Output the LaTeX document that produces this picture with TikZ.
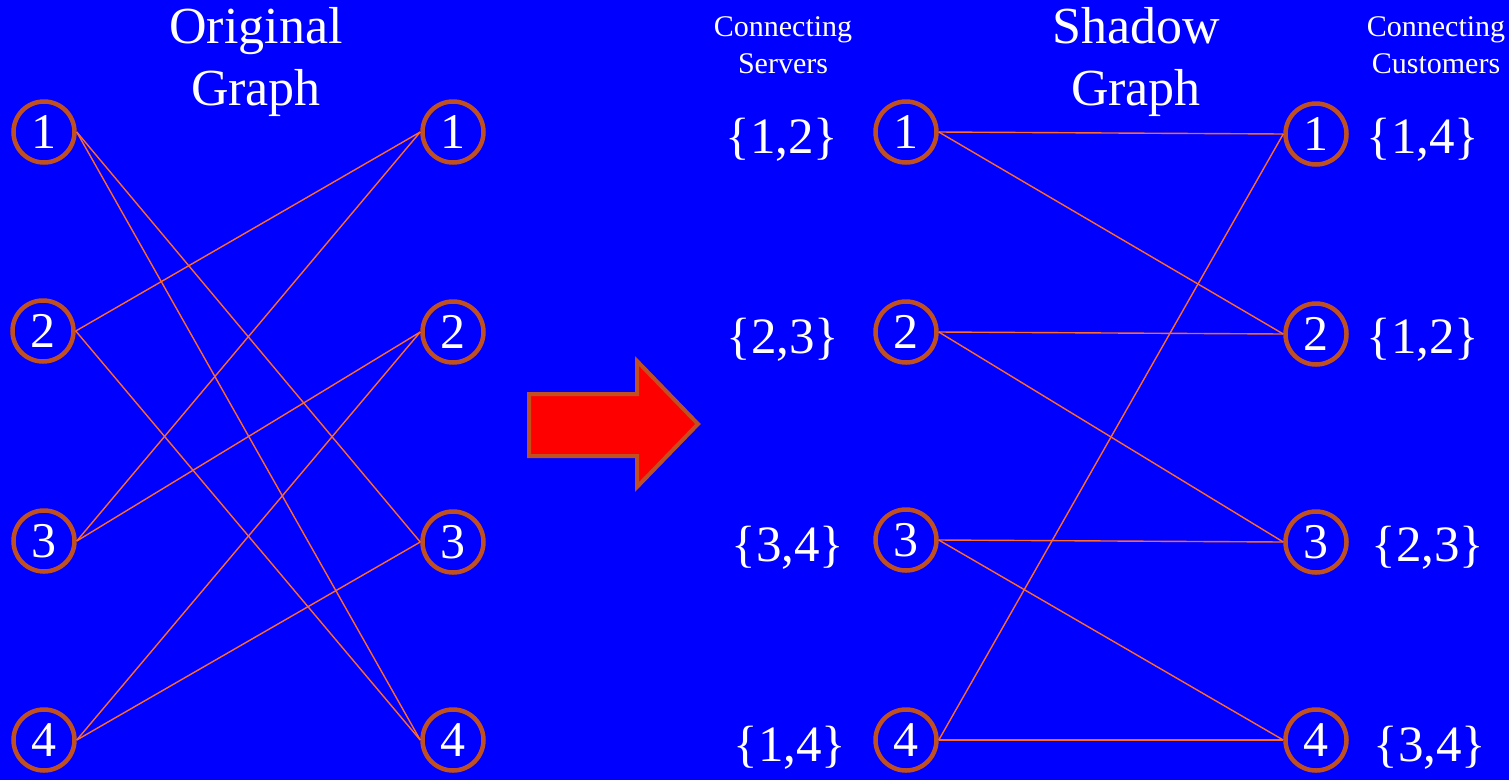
\documentclass[tikz,border=0pt]{standalone}
\usepackage{fontspec}
\setmainfont{Liberation Serif}
\definecolor{bg}{HTML}{0000FF}
\definecolor{ring}{HTML}{C0501F}
\definecolor{edge}{HTML}{FF6A28}
\definecolor{arrowfill}{HTML}{FF0000}
\begin{document}
\begin{tikzpicture}[x=1pt,y=-1pt,
  vert/.style={circle,draw=ring,line width=4.5pt,minimum size=61pt,inner sep=0pt,
    text=white,font=\fontsize{50}{50}\selectfont},
  link/.style={draw=edge,line width=1.4pt},
  title/.style={text=white,align=center,font=\fontsize{52}{62}\selectfont},
  small/.style={text=white,align=center,font=\fontsize{30}{37}\selectfont},
  set/.style={text=white,font=\fontsize{51}{51}\selectfont}]
\fill[bg] (0,0) rectangle (1509,780);
\useasboundingbox (0,0) rectangle (1509,780);
% titles
\node[title] (t1) at (256,62) {Original\\Graph};
\node[title] (t2) at (1136,62) {Shadow\\Graph};
\node[small] (s1) at (783,45) {Connecting\\Servers};
\node[small] (s2) at (1436,45) {Connecting\\Customers};
% original graph
\node[vert] (a1) at (44,132) {1};
\node[vert] (a2) at (43,331) {2};
\node[vert] (a3) at (44,541) {3};
\node[vert] (a4) at (44,740) {4};
\node[vert] (b1) at (453,132) {1};
\node[vert] (b2) at (453,332) {2};
\node[vert] (b3) at (453,542) {3};
\node[vert] (b4) at (453,740) {4};
\draw[link] (a1.east) -- (b3.west);
\draw[link] (a1.east) -- (b4.west);
\draw[link] (a2.east) -- (b1.west);
\draw[link] (a2.east) -- (b4.west);
\draw[link] (a3.east) -- (b1.west);
\draw[link] (a3.east) -- (b2.west);
\draw[link] (a4.east) -- (b2.west);
\draw[link] (a4.east) -- (b3.west);
% arrow
\draw[ring,line width=4pt,fill=arrowfill,line join=miter]
  (529,394) -- (637,394) -- (637,361) -- (698,424) -- (637,487) -- (637,456) -- (529,456) -- cycle;
% shadow graph
\node[vert] (c1) at (906,132) {1};
\node[vert] (c2) at (906,332) {2};
\node[vert] (c3) at (906,540) {3};
\node[vert] (c4) at (906,740) {4};
\node[vert] (d1) at (1316,134) {1};
\node[vert] (d2) at (1316,334) {2};
\node[vert] (d3) at (1316,542) {3};
\node[vert] (d4) at (1316,740) {4};
\draw[link] (c1.east) -- (d1.west);
\draw[link] (c1.east) -- (d2.west);
\draw[link] (c2.east) -- (d2.west);
\draw[link] (c2.east) -- (d3.west);
\draw[link] (c3.east) -- (d3.west);
\draw[link] (c3.east) -- (d4.west);
\draw[link] (c4.east) -- (d4.west);
\draw[link] (c4.east) -- (d1.west);
% sets
\node[set] (l1) at (782,140) {\{1,2\}};
\node[set] (l2) at (783,340) {\{2,3\}};
\node[set] (l3) at (788,548) {\{3,4\}};
\node[set] (l4) at (790,748) {\{1,4\}};
\node[set] (r1) at (1423,140) {\{1,4\}};
\node[set] (r2) at (1423,340) {\{1,2\}};
\node[set] (r3) at (1428,548) {\{2,3\}};
\node[set] (r4) at (1430,748) {\{3,4\}};
\end{tikzpicture}
\end{document}
